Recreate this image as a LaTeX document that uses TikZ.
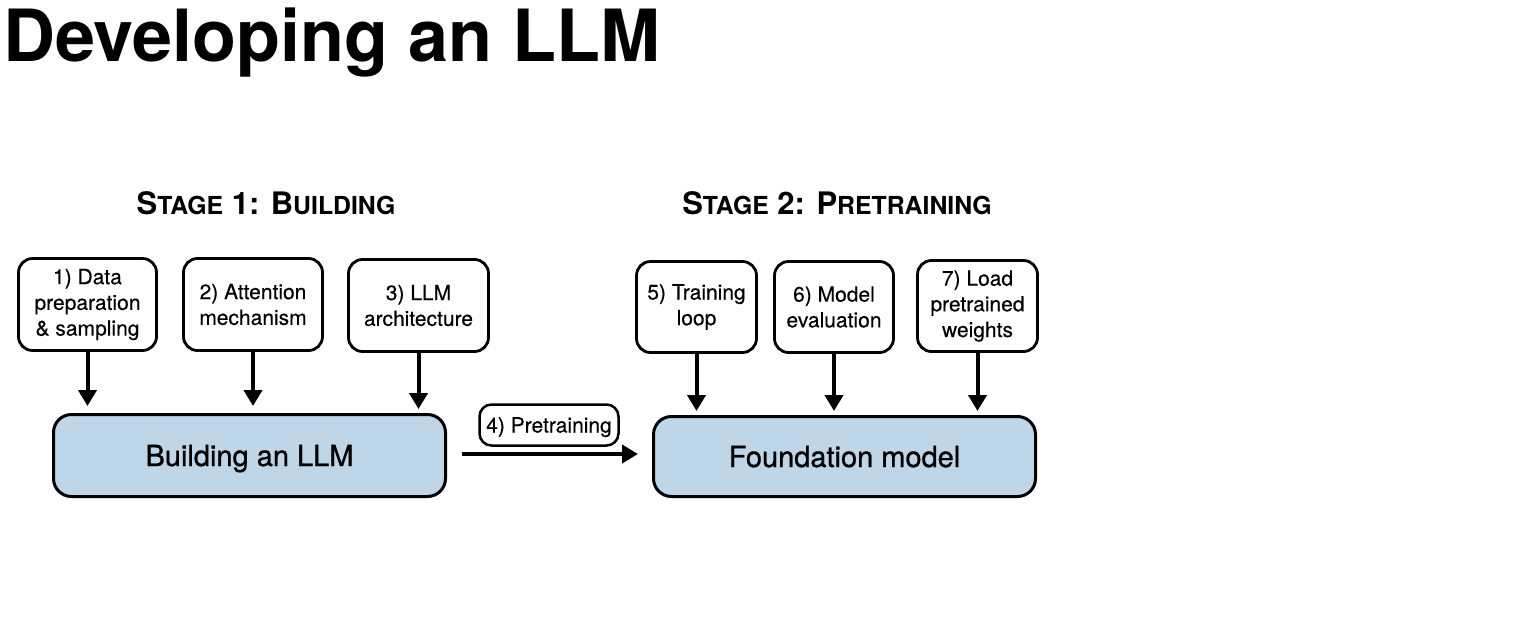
\documentclass[tikz,border=0pt]{standalone}
\usepackage{fontspec}
\setmainfont{TeX Gyre Heros}
\newfontfamily\medfont[FakeBold=0.9]{TeX Gyre Heros}
\newfontfamily\smallfont[FakeBold=0.25]{TeX Gyre Heros}
\usetikzlibrary{arrows.meta}
\definecolor{boxblue}{RGB}{190,214,232}
\newcommand{\lowsc}[1]{{\fontsize{24.8}{24.8}\selectfont #1}}
\begin{document}
\begin{tikzpicture}[x=1pt,y=-1pt,
  smallbox/.style={draw=black, line width=2.8pt, rounded corners=14pt, fill=white,
    align=center, font=\smallfont\fontsize{21}{25.7}\selectfont, inner sep=0pt},
  bigbox/.style={draw=black, line width=3pt, rounded corners=18pt, fill=boxblue,
    font=\medfont\fontsize{29}{34}\selectfont, inner sep=0pt, text height=21pt, text depth=0pt},
  arr/.style={line width=4pt, -{Triangle[width=18pt,length=16pt]}},
  stagetitle/.style={font=\fontsize{31}{31}\selectfont\bfseries, anchor=base, inner sep=0pt}]
\useasboundingbox (0,0) rectangle (1534,635);

\node[anchor=base west, inner sep=0pt, font=\fontsize{72}{72}\selectfont\bfseries] (title) at (3,61) {Developing an LLM};

\node[stagetitle] (s1) at (266,214) {S\lowsc{TAGE} 1: B\lowsc{UILDING}};
\node[stagetitle] (s2) at (837,214) {S\lowsc{TAGE} 2: P\lowsc{RETRAINING}};

\node[smallbox, minimum width=138pt, minimum height=92pt] (b1) at (87.5,304.5) {1) Data\\preparation\\\& sampling};
\node[smallbox, minimum width=139pt, minimum height=92pt] (b2) at (253,304.5) {2) Attention\\mechanism};
\node[smallbox, minimum width=140pt, minimum height=92pt] (b3) at (418.5,305.5) {3) LLM\\architecture};

\node[bigbox, minimum width=392pt, minimum height=82pt] (build) at (249.5,455.5) {Building an LLM};

\node[smallbox, line width=2.5pt, rounded corners=12pt, minimum width=139pt, minimum height=41pt, text height=15pt, text depth=0pt] (pre) at (549,425) {4) Pretraining};

\node[smallbox, minimum width=120pt, minimum height=91pt] (b5) at (696.5,307) {5) Training\\loop};
\node[smallbox, minimum width=119pt, minimum height=91pt] (b6) at (834,307) {6) Model\\evaluation};
\node[smallbox, minimum width=120pt, minimum height=91pt] (b7) at (977.5,306) {7) Load\\pretrained\\weights};

\node[bigbox, minimum width=382pt, minimum height=80pt] (found) at (844.5,456.5) {Foundation model};

\draw[arr, shorten >=7pt] (b1.south) -- (b1.south |- build.north);
\draw[arr, shorten >=7pt] (b2.south) -- (b2.south |- build.north);
\draw[arr, shorten >=4pt] (b3.south) -- (b3.south |- build.north);
\draw[arr, shorten >=4pt] (b5.south) -- (b5.south |- found.north);
\draw[arr, shorten >=4pt] (b6.south) -- (b6.south |- found.north);
\draw[arr, shorten >=4pt] (b7.south) -- (b7.south |- found.north);
\draw[arr, shorten <=15pt, shorten >=14pt] ([yshift=1.5pt]build.east) -- ([yshift=1.5pt]build.east -| found.west);
\end{tikzpicture}
\end{document}
